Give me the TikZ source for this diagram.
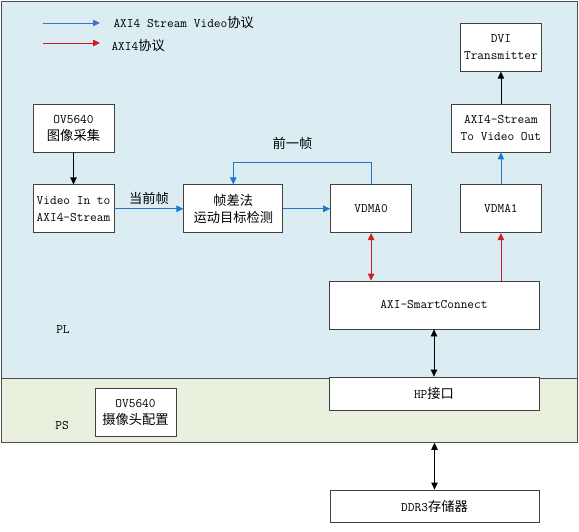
\documentclass[tikz,border=0pt]{standalone}
\usepackage{fontspec}
\newfontfamily\cjk[Scale=1.02]{Noto Sans CJK SC}
\usetikzlibrary{arrows.meta,positioning}

\definecolor{plfill}{RGB}{219,237,243}
\definecolor{psfill}{RGB}{234,240,222}
\definecolor{vidblue}{RGB}{30,122,200}
\definecolor{legblue}{RGB}{68,114,196}
\definecolor{axired}{RGB}{205,30,30}

\begin{document}
\begin{tikzpicture}[
    x=1pt, y=-1pt,
    font=\ttfamily\fontsize{13}{17}\selectfont,
    block/.style={draw=black!75, line width=0.8pt, fill=white, align=center, inner sep=1pt, minimum width=81pt, minimum height=48pt},
    wide/.style={minimum width=99pt},
    region/.style={draw=black!70, line width=0.8pt, minimum width=576pt, anchor=north west, inner sep=0pt},
    tip/.style={-{Triangle[length=7pt,width=6.5pt]}},
    both/.style={{Triangle[length=7pt,width=6.5pt]}-{Triangle[length=7pt,width=6.5pt]}},
    blueline/.style={tip, draw=vidblue, line width=0.8pt},
    redline/.style={tip, draw=axired, line width=0.8pt},
    redboth/.style={both, draw=axired, line width=0.8pt},
    blackline/.style={tip, draw=black, line width=0.8pt},
    blackboth/.style={both, draw=black, line width=0.8pt}
]
    \useasboundingbox (0,0) rectangle (579,532);

    % PL / PS areas
    \node[region, fill=plfill, minimum height=377pt] (pl) at (1,1) {};
    \node[region, fill=psfill, minimum height=64pt] (ps) at (1,378) {};
    \node (pltext) at (63,330) {PL};
    \node (pstext) at (62,426) {PS};

    % legend
    \coordinate (legb0) at (43,23);
    \coordinate (legb1) at (100,23);
    \coordinate (legr0) at (43,43);
    \coordinate (legr1) at (100,43);
    \draw[blueline, draw=legblue] (legb0) -- (legb1);
    \draw[redline] (legr0) -- (legr1);
    \node[anchor=west] (legbtext) at (110,23) {AXI4 Stream Video{\cjk 协议}};
    \node[anchor=west] (legrtext) at (108,46) {AXI4{\cjk 协议}};

    % blocks
    \node[block] (ov) at (73.5,128) {OV5640\\{\cjk 图像采集}};
    \node[block, below=32pt of ov] (vin) {Video In to\\AXI4-Stream};
    \node[block, wide, right=69pt of vin] (fdiff) {{\cjk 帧差法}\\{\cjk 运动目标检测}};
    \node[block, right=47pt of fdiff] (vdma0) {VDMA0};
    \node[block, right=48pt of vdma0] (vdma1) {VDMA1};
    \node[block, wide, above=32pt of vdma1] (vout) {AXI4-Stream\\To Video Out};
    \node[block, above=32pt of vout] (dvi) {DVI\\Transmitter};
    \node[block, minimum width=210pt] (smc) at (434,305) {AXI-SmartConnect};
    \node[block, minimum width=210pt, minimum height=33pt] (hp) at (434,393.5) {HP{\cjk 接口}};
    \node[block, minimum width=209pt, minimum height=32pt] (ddr) at (434.5,506) {DDR3{\cjk 存储器}};
    \node[block] (ovcfg) at (135.5,412.5) {OV5640\\{\cjk 摄像头配置}};

    % connections
    \draw[blackline] (ov) -- (vin);
    \draw[blueline] (vin) -- node[above] (curlabel) {\cjk 当前帧} (fdiff);
    \draw[blueline] (fdiff) -- (vdma0);
    \draw[blueline] (vdma0.north) -- ++(0,-22) -| node[pos=0.285, above, yshift=9pt] (prevlabel) {\cjk 前一帧} (fdiff.north);
    \draw[blueline] (vdma1) -- (vout);
    \draw[blackline] (vout) -- (dvi);
    \draw[redboth] (vdma0.south) -- (vdma0.south |- smc.north);
    \draw[redline] (vdma1.south |- smc.north) -- (vdma1.south);
    \draw[blackboth] (smc) -- (hp);
    \draw[blackboth] (ddr.north |- ps.south) -- (ddr.north);
\end{tikzpicture}
\end{document}
